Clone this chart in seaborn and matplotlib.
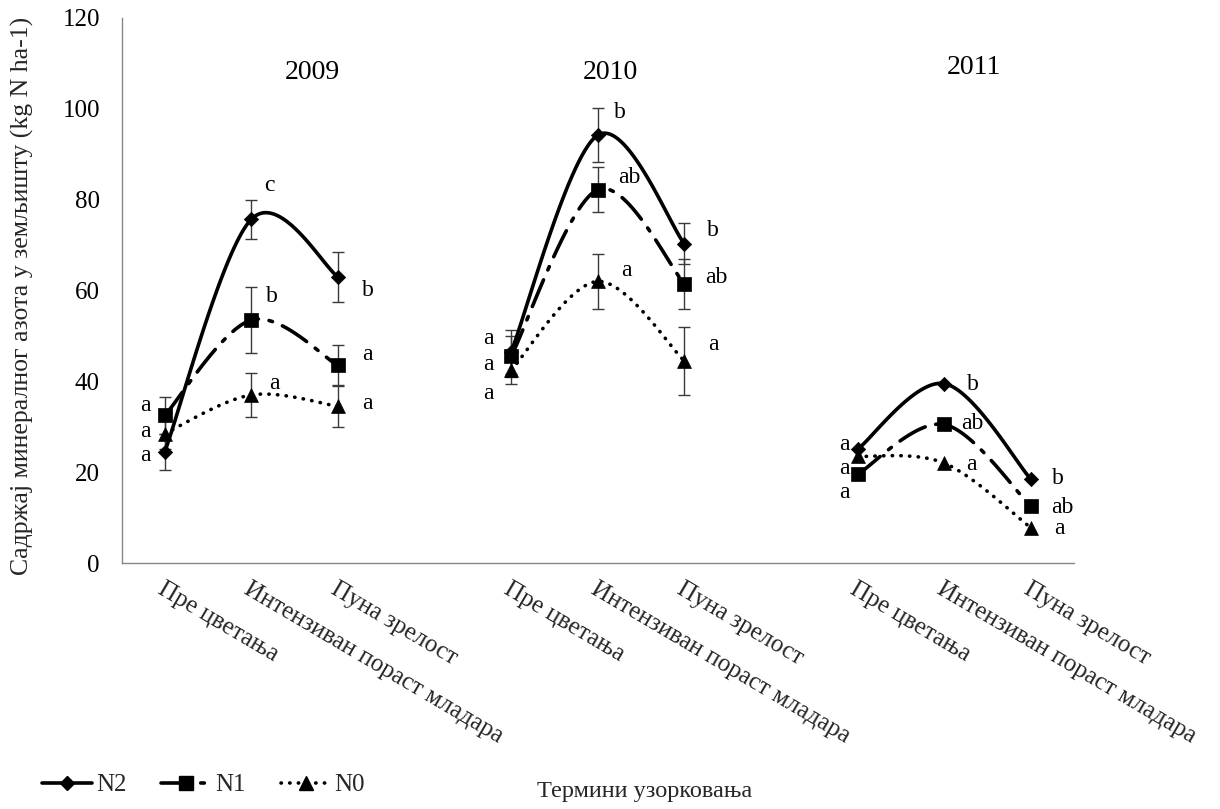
import numpy as np
import pandas as pd
import matplotlib
matplotlib.use("Agg")
import matplotlib.pyplot as plt
from matplotlib.lines import Line2D
import seaborn as sns

# ---------------- data ----------------
years = ["2009", "2010", "2011"]
stages = ["Пре цветања", "Интензиван пораст младара", "Пуна зрелост"]
series = ["N2", "N1", "N0"]

n2 = [24.5, 75.7, 63.0, 46.5, 94.2, 70.3, 25.0, 39.5, 18.5]
n1 = [32.5, 53.5, 43.5, 45.5, 82.2, 61.5, 19.5, 30.5, 12.5]
n0 = [28.5, 37.0, 34.5, 42.5, 62.0, 44.5, 23.5, 22.0, 7.8]

n2_err = [4.0, 4.3, 5.5, 4.8, 6.0, 4.5, np.nan, np.nan, np.nan]
n1_err = [4.0, 7.2, 4.4, 4.5, 5.0, 5.5, np.nan, np.nan, np.nan]
n0_err = [3.5, 4.8, 4.5, 3.0, 6.0, 7.5, np.nan, np.nan, np.nan]

n2_sig = ["a", "c", "b", "a", "b", "b", "a", "b", "b"]
n1_sig = ["a", "b", "a", "a", "ab", "ab", "a", "ab", "ab"]
n0_sig = ["a", "a", "a", "a", "a", "a", "a", "a", "a"]

x_title = "Термини узорковања"
y_title = "Садржај минералног азота у земљишту (kg N ha-1)"

# ---------------- layout (label placement) ----------------
# letter positions (x offset from point, y in data units)
n2_sig_pos = [(-0.22, 23.6), (0.21, 83.2), (0.34, 59.9),
              (-0.26, 37.4), (0.25, 99.1), (0.33, 73.3),
              (-0.15, 26.0), (0.33, 39.2), (0.31, 18.7)]
n1_sig_pos = [(-0.22, 34.6), (0.24, 58.6), (0.34, 45.8),
              (-0.26, 49.5), (0.37, 84.8), (0.37, 62.8),
              (-0.15, 15.6), (0.32, 30.8), (0.37, 12.3)]
n0_sig_pos = [(-0.22, 29.0), (0.27, 39.6), (0.34, 35.2),
              (-0.26, 43.8), (0.33, 64.5), (0.33, 48.0),
              (-0.15, 20.8), (0.32, 21.6), (0.33, 7.6)]
year_pos = [(1.70, 108.1), (5.15, 108.1), (9.35, 109.0)]

SERIF = ["Liberation Serif", "DejaVu Serif"]

sns.set_theme(style="white")
plt.rcParams["font.family"] = SERIF
plt.rcParams["font.size"] = 18

fig = plt.figure(figsize=(12.2, 8.09), dpi=100)
W, H = 1220, 809
L, R, T, B = 121.5, 1074, 18, 563
ax = fig.add_axes([L / W, 1 - B / H, (R - L) / W, (B - T) / H])

# positions: three stages per year, empty slot between years
pos = [yi * 4 + si for yi in range(len(years)) for si in range(len(stages))]

rows = []
for name, vals, errs in [("N2", n2, n2_err), ("N1", n1, n1_err), ("N0", n0, n0_err)]:
    for p, v, e in zip(pos, vals, errs):
        rows.append({"series": name, "pos": p, "value": v, "err": e,
                     "year": years[p // 4]})
df = pd.DataFrame(rows)


def smooth(xs, ys, n=60):
    P = np.column_stack([xs, ys]).astype(float)
    m = len(P)
    out = []
    for i in range(m - 1):
        p0 = P[max(i - 1, 0)]
        p1 = P[i]
        p2 = P[i + 1]
        p3 = P[min(i + 2, m - 1)]
        c1 = p1 + (p2 - p0) / 6.0
        c2 = p2 - (p3 - p1) / 6.0
        t = np.linspace(0, 1, n)[:, None]
        seg = (1 - t) ** 3 * p1 + 3 * (1 - t) ** 2 * t * c1 + 3 * (1 - t) * t ** 2 * c2 + t ** 3 * p2
        out.append(seg if i == 0 else seg[1:])
    return np.vstack(out)


styles = {
    "N2": dict(ls="-", marker="D", ms=7.3),
    "N1": dict(ls=(0, (8, 3, 1, 3)), marker="s", ms=10.5),
    "N0": dict(ls=(0, (0.1, 2.3)), marker="^", ms=10.0),
}
LW = 2.6

for name in series:
    sub = df[df["series"] == name]
    st = styles[name]
    for yr in years:
        s2 = sub[sub["year"] == yr]
        curve = smooth(s2["pos"].values, s2["value"].values)
        cdf = pd.DataFrame({"x": curve[:, 0], "y": curve[:, 1]})
        sns.lineplot(data=cdf, x="x", y="y", ax=ax, color="black", lw=LW,
                     linestyle=st["ls"], sort=False, estimator=None,
                     dash_capstyle="round", solid_capstyle="butt", zorder=3)
    ok = sub.dropna(subset=["err"])
    ax.errorbar(ok["pos"], ok["value"], yerr=ok["err"], fmt="none",
                ecolor="#3a3a3a", elinewidth=1.0, capsize=4.3, capthick=1.0, zorder=2)
    sns.scatterplot(data=sub, x="pos", y="value", ax=ax, marker=st["marker"],
                    s=st["ms"] ** 2, color="black", edgecolor="black",
                    linewidth=0.5, zorder=4, legend=False)

# significance letters
for vals, sig, sp in [(n2, n2_sig, n2_sig_pos), (n1, n1_sig, n1_sig_pos), (n0, n0_sig, n0_sig_pos)]:
    for p, s, (dx, yy) in zip(pos, sig, sp):
        ax.text(p + dx, yy, s, ha="center", va="center", fontsize=17, color="black")

for yr, (xx, yy) in zip(years, year_pos):
    ax.text(xx, yy, yr, ha="center", va="center", fontsize=20, color="black")

# axes styling
ax.set_xlim(-0.5, 10.5)
ax.set_ylim(0, 120)
ax.set_yticks(np.arange(0, 121, 20))
ax.set_xticks(pos)
ax.set_xticklabels([stages[p % 4] for p in pos], rotation=-30.5, ha="left",
                   va="top", rotation_mode="anchor", fontsize=18)
ax.set_xticks(np.arange(-0.5, 10.6, 1.0), minor=True)
ax.tick_params(axis="x", which="major", length=0, pad=11)
ax.tick_params(axis="x", which="minor", length=5, width=1, color="#868686", direction="out")
ax.tick_params(axis="y", which="major", length=5.5, width=1, color="#868686",
               direction="out", labelsize=18, pad=10, labelcolor="black")
for side in ["top", "right"]:
    ax.spines[side].set_visible(False)
for side in ["left", "bottom"]:
    ax.spines[side].set_color("#868686")
    ax.spines[side].set_linewidth(1.0)
ax.set_xlabel("")
ax.set_ylabel("")
ax.grid(False)

fig.text(22 / W, 1 - 296 / H, y_title, rotation=90, ha="center", va="center", fontsize=18.5)
fig.text(645 / W, 1 - 792 / H, x_title, ha="center", va="center", fontsize=17.5)

handles = []
for name in series:
    st = styles[name]
    handles.append(Line2D([], [], color="black", lw=LW, linestyle=st["ls"],
                          marker=st["marker"], markersize=st["ms"] * 0.95,
                          dash_capstyle="round"))
fig.legend(handles, series, loc="center left", bbox_to_anchor=(42 / W, 1 - 785 / H),
           ncol=3, frameon=False, handlelength=2.0, handletextpad=0.15,
           columnspacing=1.4, borderaxespad=0, borderpad=0, fontsize=18)

fig.savefig("out.png", dpi=100)
